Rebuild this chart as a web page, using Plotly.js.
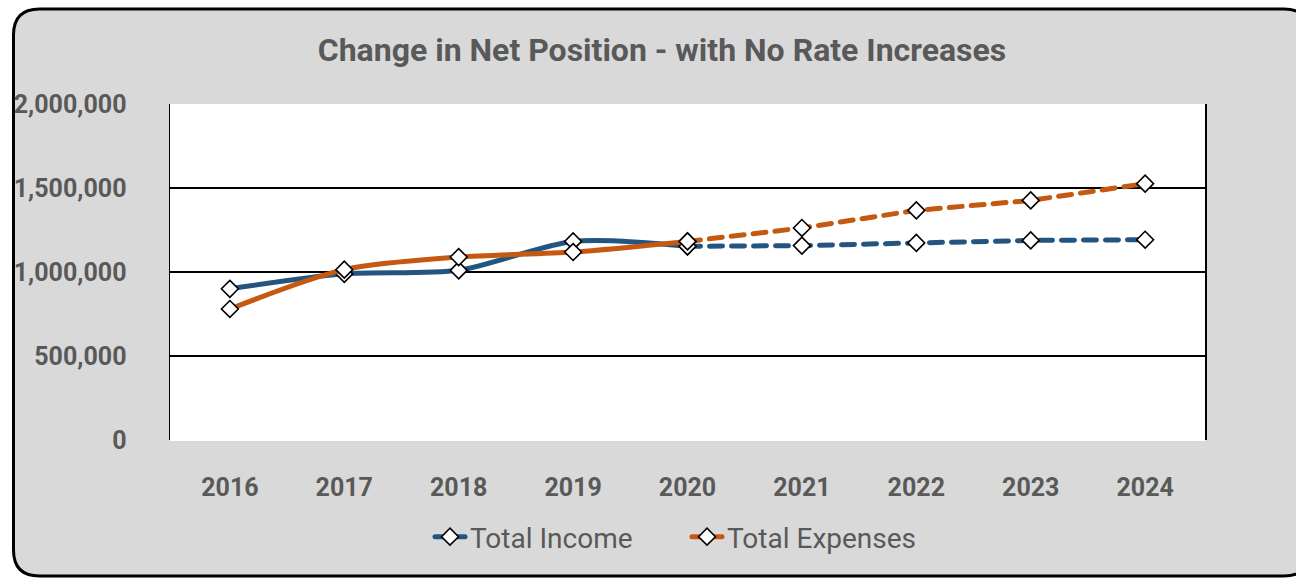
<!DOCTYPE html>
<html>
<head>
<meta charset="utf-8">
<script src="https://cdn.plot.ly/plotly-3.0.1.min.js"></script>
<style>html,body{margin:0;padding:0;background:#fff;}#chart{width:1296px;height:579px;}
#chart .js-line{stroke-linecap:round;}</style>
</head>
<body>
<div id="chart"></div>
<script>
// Data
const years = ['2016','2017','2018','2019','2020','2021','2022','2023','2024'];
const totalIncome = [900000, 989000, 1010000, 1182000, 1153000, 1157000, 1173000, 1188000, 1192000];
const totalExpenses = [780000, 1014000, 1089000, 1119000, 1182000, 1262000, 1367000, 1426000, 1526000];
const lastActualYear = '2020';
const yTickVals = [0, 500000, 1000000, 1500000, 2000000];
const yTickText = ['0', '500,000', '1,000,000', '1,500,000', '2,000,000'];

const split = years.indexOf(lastActualYear);
const actYears = years.slice(0, split + 1);
const projYears = years.slice(split);

const blue = '#245480';
const orange = '#c65911';
const txt = '#595959';
const FONT = '"Liberation Sans Narrow", "Arial Narrow", Roboto, sans-serif';
const marker = {symbol: 'diamond', size: 13, color: '#ffffff', line: {color: '#000000', width: 1.6}};

const traces = [
  {x: projYears, y: totalIncome.slice(split), mode: 'lines+markers', showlegend: false,
   line: {color: blue, width: 5, dash: '13px,9px'}, marker: marker},
  {x: projYears, y: totalExpenses.slice(split), mode: 'lines+markers', showlegend: false,
   line: {color: orange, width: 5, dash: '13px,9px'}, marker: marker},
  {x: actYears, y: totalIncome.slice(0, split + 1), name: 'Total Income', mode: 'lines+markers',
   line: {color: blue, width: 5, shape: 'spline', smoothing: 0.8}, marker: marker},
  {x: actYears, y: totalExpenses.slice(0, split + 1), name: 'Total Expenses', mode: 'lines+markers',
   line: {color: orange, width: 5, shape: 'spline', smoothing: 0.8}, marker: marker}
];

// layout geometry (pixels)
const W = 1296, H = 579, L = 170, R = 91, T = 104, B = 139;
const pw = W - L - R, ph = H - T - B;
const X = px => (px - L) / pw;
const Y = py => (H - B - py) / ph;
const fl = 13.5, ft = 9, fr = 1310, fb = 576, rad = 26;
const framePath = 'M ' + X(fl) + ' ' + Y(ft + rad) +
  ' Q ' + X(fl) + ' ' + Y(ft) + ' ' + X(fl + rad) + ' ' + Y(ft) +
  ' L ' + X(fr - rad) + ' ' + Y(ft) +
  ' Q ' + X(fr) + ' ' + Y(ft) + ' ' + X(fr) + ' ' + Y(ft + rad) +
  ' L ' + X(fr) + ' ' + Y(fb - rad) +
  ' Q ' + X(fr) + ' ' + Y(fb) + ' ' + X(fr - rad) + ' ' + Y(fb) +
  ' L ' + X(fl + rad) + ' ' + Y(fb) +
  ' Q ' + X(fl) + ' ' + Y(fb) + ' ' + X(fl) + ' ' + Y(fb - rad) + ' Z';

const layout = {
  width: W, height: H,
  margin: {l: L, r: R, t: T, b: B, pad: 0},
  paper_bgcolor: '#ffffff',
  plot_bgcolor: 'rgba(0,0,0,0)',
  font: {family: FONT, color: txt},
  title: {text: '<b>Change in Net Position - with No Rate Increases</b>', font: {family: FONT, size: 32, color: txt},
          x: 662 / W, xref: 'container', xanchor: 'center', y: 1 - 50 / H, yref: 'container', yanchor: 'middle'},
  xaxis: {type: 'category', categoryorder: 'array', categoryarray: years,
          showgrid: false, zeroline: false, showline: false, ticks: '',
          tickfont: {family: FONT, size: 25, color: txt, weight: 'bold'}, ticklabelstandoff: 30, fixedrange: true},
  yaxis: {range: [0, 2000000], tickvals: yTickVals, ticktext: yTickText, showgrid: true, gridcolor: '#000000', gridwidth: 1.5,
          zeroline: true, zerolinecolor: '#ffffff', zerolinewidth: 1,
          showline: true, mirror: true, linecolor: '#000000', linewidth: 1.5, ticks: '',
          tickfont: {family: FONT, size: 25, color: txt, weight: 'bold'}, ticklabelstandoff: 37, fixedrange: true},
  legend: {orientation: 'h', x: X(687), xanchor: 'center', y: Y(537), yanchor: 'middle',
           entrywidth: 212, entrywidthmode: 'pixels',
           font: {family: FONT, size: 28, color: txt}, bgcolor: 'rgba(0,0,0,0)', traceorder: 'normal'},
  shapes: [
    {type: 'path', xref: 'paper', yref: 'paper', path: framePath, fillcolor: '#d9d9d9',
     line: {color: '#000000', width: 3}, layer: 'below'},
    {type: 'rect', xref: 'paper', yref: 'paper', x0: 0, x1: 1, y0: 0, y1: 1, fillcolor: '#ffffff',
     line: {width: 0}, layer: 'below'}
  ],
  showlegend: true
};

Plotly.newPlot('chart', traces, layout, {displayModeBar: false, staticPlot: true});
</script>
</body>
</html>
